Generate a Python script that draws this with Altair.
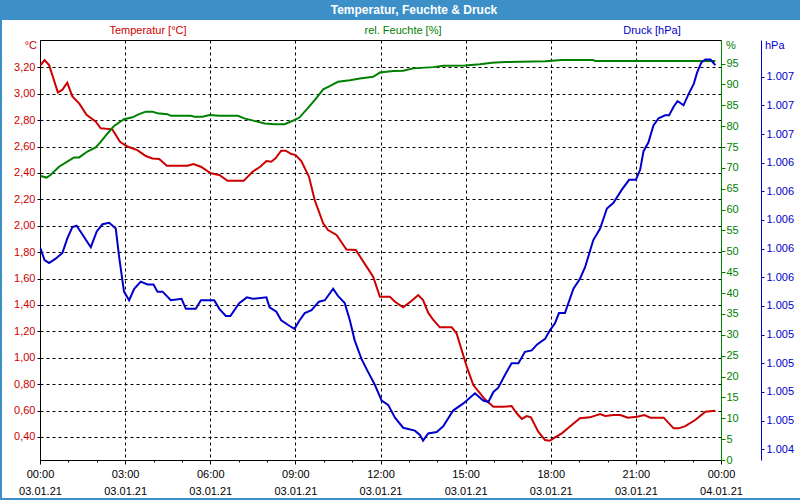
import json
import altair as alt
import pandas as pd

# ---------------- data ----------------
temp_hours = [0.02, 0.16, 0.32, 0.47, 0.63, 0.79, 0.96, 1.14, 1.38, 1.64, 1.96, 2.14, 2.55, 2.82,
              3.08, 3.43, 3.73, 3.96, 4.2, 4.47, 5.2, 5.41, 5.67, 6.02, 6.32, 6.61, 7.18, 7.49,
              7.76, 7.98, 8.15, 8.3, 8.5, 8.66, 8.86, 9.01, 9.21, 9.48, 9.68, 9.98, 10.15, 10.45,
              10.8, 11.13, 11.51, 11.74, 11.98, 12.33, 12.51, 12.8, 13.1, 13.33, 13.5, 13.68,
              13.86, 14.09, 14.51, 14.68, 14.86, 15.04, 15.27, 15.51, 15.68, 15.98, 16.33, 16.62,
              16.8, 16.98, 17.15, 17.3, 17.56, 17.8, 17.97, 18.15, 18.39, 18.74, 19.03, 19.38,
              19.74, 19.92, 20.21, 20.45, 20.72, 21.04, 21.3, 21.51, 21.98, 22.33, 22.51, 22.74,
              23.09, 23.45, 23.8]
temp_values = [3.217, 3.255, 3.217, 3.117, 3.01, 3.03, 3.083, 2.98, 2.927, 2.84, 2.79, 2.738, 2.73,
               2.636, 2.60, 2.573, 2.528, 2.51, 2.505, 2.455, 2.455, 2.467, 2.447, 2.397, 2.384,
               2.34, 2.34, 2.409, 2.447, 2.49, 2.485, 2.51, 2.568, 2.568, 2.543, 2.535, 2.49, 2.37,
               2.195, 2.018, 1.967, 1.93, 1.82, 1.816, 1.69, 1.614, 1.462, 1.462, 1.424, 1.382,
               1.432, 1.475, 1.437, 1.341, 1.286, 1.23, 1.23, 1.185, 1.058, 0.932, 0.793, 0.73,
               0.685, 0.629, 0.629, 0.634, 0.579, 0.536, 0.558, 0.548, 0.44, 0.376, 0.371, 0.397,
               0.427, 0.49, 0.541, 0.548, 0.573, 0.558, 0.566, 0.566, 0.546, 0.553, 0.566, 0.546,
               0.546, 0.465, 0.465, 0.482, 0.528, 0.591, 0.598]

hum_hours = [0.02, 0.23, 0.37, 0.67, 0.96, 1.2, 1.38, 1.67, 1.96, 2.14, 2.38, 2.61, 2.96, 3.26,
             3.49, 3.73, 3.96, 4.14, 4.49, 4.61, 5.32, 5.44, 5.73, 5.97, 6.32, 6.97, 7.2, 7.55,
             7.92, 8.27, 8.62, 8.97, 9.15, 9.5, 9.74, 9.98, 10.21, 10.5, 10.92, 11.27, 11.74,
             11.98, 12.45, 12.8, 13.15, 13.86, 14.21, 14.98, 15.51, 15.92, 16.39, 17.8, 18.39,
             19.5, 19.56, 23.8]
hum_values = [68.06, 67.68, 68.28, 70.29, 71.5, 72.51, 72.51, 73.92, 74.92, 76.23, 78.25, 80.06,
              81.67, 82.12, 82.88, 83.48, 83.48, 83.08, 82.88, 82.47, 82.47, 82.27, 82.27, 82.67,
              82.47, 82.47, 81.87, 81.27, 80.66, 80.46, 80.46, 81.47, 82.12, 84.79, 86.7, 88.82,
              89.62, 90.63, 91.03, 91.43, 91.83, 92.84, 93.24, 93.29, 93.85, 94.15, 94.45, 94.55,
              94.85, 95.2, 95.36, 95.56, 95.86, 95.86, 95.61, 95.61]

pres_hours = [0.02, 0.16, 0.32, 0.55, 0.79, 0.96, 1.14, 1.29, 1.49, 1.79, 2.0, 2.2, 2.44, 2.67,
              2.79, 2.96, 3.14, 3.32, 3.55, 3.79, 4.0, 4.14, 4.32, 4.61, 4.99, 5.14, 5.49, 5.67,
              6.14, 6.32, 6.55, 6.71, 7.02, 7.29, 7.49, 7.98, 8.09, 8.33, 8.5, 8.8, 8.97, 9.15,
              9.33, 9.57, 9.83, 10.04, 10.33, 10.5, 10.74, 10.92, 11.09, 11.33, 11.56, 11.8,
              12.04, 12.27, 12.51, 12.8, 13.21, 13.39, 13.5, 13.68, 13.98, 14.21, 14.56, 14.92,
              15.33, 15.62, 15.8, 15.98, 16.15, 16.39, 16.62, 16.86, 17.09, 17.33, 17.51, 17.8,
              17.97, 18.15, 18.29, 18.5, 18.8, 19.03, 19.21, 19.5, 19.74, 19.98, 20.21, 20.5,
              20.76, 21.0, 21.15, 21.27, 21.44, 21.62, 21.8, 22.03, 22.17, 22.33, 22.47, 22.68,
              22.86, 23.04, 23.16, 23.31, 23.45, 23.63, 23.8]
pres_values = [1005.80, 1005.72, 1005.70, 1005.73, 1005.77, 1005.87, 1005.95, 1005.96, 1005.90,
               1005.81, 1005.92, 1005.97, 1005.98, 1005.94, 1005.74, 1005.50, 1005.44, 1005.52,
               1005.57, 1005.55, 1005.55, 1005.50, 1005.50, 1005.44, 1005.45, 1005.38, 1005.38,
               1005.44, 1005.44, 1005.38, 1005.33, 1005.33, 1005.42, 1005.46, 1005.45, 1005.46,
               1005.39, 1005.36, 1005.30, 1005.26, 1005.24, 1005.30, 1005.35, 1005.37, 1005.43,
               1005.44, 1005.52, 1005.47, 1005.42, 1005.30, 1005.16, 1005.03, 1004.94, 1004.85,
               1004.74, 1004.71, 1004.62, 1004.55, 1004.53, 1004.50, 1004.46, 1004.51, 1004.52,
               1004.56, 1004.67, 1004.72, 1004.79, 1004.74, 1004.73, 1004.80, 1004.83, 1004.92,
               1005.00, 1005.00, 1005.08, 1005.09, 1005.13, 1005.17, 1005.23, 1005.28, 1005.35,
               1005.35, 1005.52, 1005.59, 1005.67, 1005.86, 1005.94, 1006.08, 1006.12, 1006.21,
               1006.28, 1006.28, 1006.35, 1006.48, 1006.54, 1006.66, 1006.71, 1006.73, 1006.73,
               1006.79, 1006.83, 1006.80, 1006.88, 1006.95, 1007.03, 1007.10, 1007.12, 1007.12,
               1007.08]

# tick values / labels
x_ticks = list(range(0, 25))
x_time_labels = ["00:00", "03:00", "06:00", "09:00", "12:00", "15:00", "18:00", "21:00", "00:00"]
x_date_labels = ["03.01.21"] * 8 + ["04.01.21"]
temp_ticks = [round(0.4 + 0.2 * i, 2) for i in range(15)]
temp_tick_labels = ["0,40", "0,60", "0,80", "1,00", "1,20", "1,40", "1,60", "1,80", "2,00",
                    "2,20", "2,40", "2,60", "2,80", "3,00", "3,20"]
hum_ticks = list(range(0, 100, 5))
pres_ticks = [round(1004.4 + 0.2 * i, 1) for i in range(14)]
pres_tick_labels = ["1.004", "1.005", "1.005", "1.005", "1.005", "1.005", "1.006", "1.006",
                    "1.006", "1.006", "1.006", "1.007", "1.007", "1.007"]

title_text = "Temperatur, Feuchte & Druck"
series_titles = ["Temperatur [°C]", "rel. Feuchte [%]", "Druck [hPa]"]
unit_labels = ["°C", "%", "hPa"]

RED = "#cc0000"
GREEN = "#008000"
BLUE = "#0000cc"
BAR = "#3d8fc8"
FONT = "Liberation Sans"

temp_df = pd.DataFrame({"h": temp_hours, "v": temp_values})
hum_df = pd.DataFrame({"h": hum_hours, "v": hum_values})
pres_df = pd.DataFrame({"h": pres_hours, "v": pres_values})
one = pd.DataFrame({"k": [0]})

x_label_expr = (
    "datum.value % 3 === 0 ? [" + json.dumps(x_time_labels) + "[datum.value / 3], "
    + json.dumps(x_date_labels) + "[datum.value / 3]] : ''"
)

x_enc = alt.X(
    "h:Q",
    scale=alt.Scale(domain=[0, 24], nice=False, zero=False),
    axis=alt.Axis(
        values=x_ticks,
        title=None,
        labelExpr=x_label_expr,
        labelLineHeight=17,
        labelPadding=4,
        labelFlush=False,
        labelOverlap=False,
        labelColor="black",
        labelFont=FONT,
        labelFontSize=11,
        tickColor="black",
        domainColor="black",
        tickSize={"condition": {"test": "datum.value % 3 === 0", "value": 4}, "value": 2},
        grid=True,
        gridColor="black",
        gridDash=[3, 3],
        gridOpacity={"condition": {"test": "datum.value % 3 === 0 && datum.value > 0 && datum.value < 24",
                                   "value": 1}, "value": 0},
    ),
)

temp_line = alt.Chart(temp_df).mark_line(color=RED, strokeWidth=2).encode(
    x=x_enc,
    y=alt.Y("v:Q", scale=alt.Scale(domain=[0.225, 3.407], nice=False, zero=False),
            axis=alt.Axis(orient="left", values=temp_ticks, title=None,
                          labelExpr=json.dumps(temp_tick_labels) + "[round((datum.value - 0.4) / 0.2)]",
                          labelColor=RED, labelFont=FONT, labelFontSize=11, labelPadding=2,
                          labelOverlap=False, tickSize=3, tickColor="black", domainColor="black",
                          grid=True, gridColor="black", gridDash=[3, 3], gridOpacity=1)),
)

hum_line = alt.Chart(hum_df).mark_line(color=GREEN, strokeWidth=2).encode(
    x=x_enc,
    y=alt.Y("v:Q", scale=alt.Scale(domain=[0, 100.65], nice=False, zero=False),
            axis=alt.Axis(orient="right", values=hum_ticks, title=None, format="d",
                          labelColor=GREEN, labelFont=FONT, labelFontSize=11, labelPadding=1,
                          labelOverlap=False, tickSize=4, tickColor=GREEN, domainColor=GREEN,
                          grid=False)),
)

pres_line = alt.Chart(pres_df).mark_line(color=BLUE, strokeWidth=2).encode(
    x=x_enc,
    y=alt.Y("v:Q", scale=alt.Scale(domain=[1004.325, 1007.256], nice=False, zero=False),
            axis=alt.Axis(orient="right", offset=40, values=pres_ticks, title=None,
                          labelExpr=json.dumps(pres_tick_labels) + "[round((datum.value - 1004.4) / 0.2)]",
                          labelColor=BLUE, labelFont=FONT, labelFontSize=11, labelPadding=2,
                          labelOverlap=False, tickSize=3, tickColor=BLUE, domainColor=BLUE,
                          grid=False)),
)

# decorations (positions relative to plot origin at 40,40)
title_bar = alt.Chart(one).mark_rect(color=BAR).encode(
    x=alt.value(-40), x2=alt.value(760), y=alt.value(-40), y2=alt.value(-20))
border_left = alt.Chart(one).mark_rect(color=BAR).encode(
    x=alt.value(-40), x2=alt.value(-38), y=alt.value(-20), y2=alt.value(460))
border_bottom = alt.Chart(one).mark_rect(color=BAR).encode(
    x=alt.value(-40), x2=alt.value(760), y=alt.value(458), y2=alt.value(460))

title_mark = alt.Chart(one).mark_text(color="white", font=FONT, fontSize=12, fontWeight="bold",
                                      align="center", baseline="middle").encode(
    x=alt.value(374), y=alt.value(-30), text=alt.value(title_text))

def label(txt, x, y, color, align):
    return alt.Chart(one).mark_text(color=color, font=FONT, fontSize=11, align=align,
                                    baseline="middle").encode(
        x=alt.value(x), y=alt.value(y), text=alt.value(txt))

labels = [
    label(series_titles[0], 108, -9, RED, "center"),
    label(series_titles[1], 363, -9, GREEN, "center"),
    label(series_titles[2], 612, -9, BLUE, "center"),
    label(unit_labels[0], -3, 6, RED, "right"),
    label(unit_labels[1], 686, 6, GREEN, "left"),
    label(unit_labels[2], 725, 6, BLUE, "left"),
]

chart = alt.layer(
    title_bar, border_left, border_bottom, title_mark, *labels,
    temp_line, hum_line, pres_line,
).resolve_scale(y="independent").properties(
    width=681, height=420,
    autosize=alt.AutoSizeParams(type="none"),
    padding={"left": 40, "top": 40, "right": 79, "bottom": 40},
    background="white",
).configure_view(stroke="black", strokeWidth=1)

chart.save("out.html", embed_options={"renderer": "svg", "actions": False})
